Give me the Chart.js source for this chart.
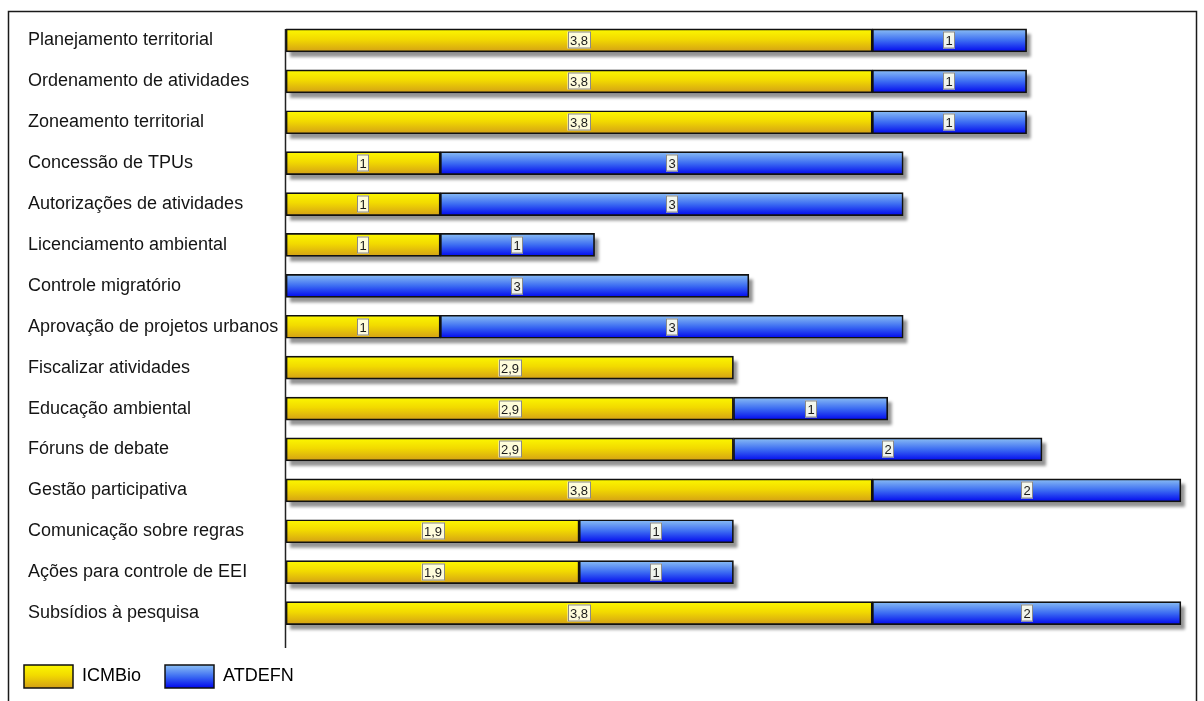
<!DOCTYPE html>
<html>
<head>
<meta charset="utf-8">
<script src="https://cdn.jsdelivr.net/npm/chart.js@4.4.0/dist/chart.umd.min.js"></script>
<style>
html,body{margin:0;padding:0;background:#fff;overflow:hidden}
#wrap{width:1204px;height:701px;position:relative}
</style>
</head>
<body>
<div id="wrap"><canvas id="c" width="1204" height="701"></canvas></div>
<script>
const categories = [
  'Planejamento territorial',
  'Ordenamento de atividades',
  'Zoneamento territorial',
  'Concessão de TPUs',
  'Autorizações de atividades',
  'Licenciamento ambiental',
  'Controle migratório',
  'Aprovação de projetos urbanos',
  'Fiscalizar atividades',
  'Educação ambiental',
  'Fóruns de debate',
  'Gestão participativa',
  'Comunicação sobre regras',
  'Ações para controle de EEI',
  'Subsídios à pesquisa'
];
const icmbioValues = [3.8, 3.8, 3.8, 1, 1, 1, null, 1, 2.9, 2.9, 2.9, 3.8, 1.9, 1.9, 3.8];
const atdefnValues = [1, 1, 1, 3, 3, 1, 3, 3, null, 1, 2, 2, 1, 1, 2];
const seriesNames = ['ICMBio', 'ATDEFN'];

const FONT = "'Liberation Sans',Arial,sans-serif";
const BAR_H = 23;

function yellowGrad(ctx, top, bottom) {
  const g = ctx.createLinearGradient(0, top, 0, bottom);
  g.addColorStop(0, '#fcf800');
  g.addColorStop(0.45, '#f2da00');
  g.addColorStop(1, '#d39f16');
  return g;
}
function blueGrad(ctx, top, bottom) {
  const g = ctx.createLinearGradient(0, top, 0, bottom);
  g.addColorStop(0, '#8cc0f4');
  g.addColorStop(0.5, '#3c6cf2');
  g.addColorStop(1, '#0006ee');
  return g;
}
function barFill(fn, fallback) {
  return (c) => {
    const ch = c.chart;
    const ys = ch.scales && ch.scales.y;
    if (!ys || c.dataIndex === undefined) return fallback;
    const cy = ys.getPixelForValue(c.dataIndex);
    return fn(ch.ctx, cy - BAR_H / 2, cy + BAR_H / 2);
  };
}
function fmt(v) {
  const r = Math.round(v * 10) / 10;
  return (Number.isInteger(r) ? String(r) : r.toFixed(1)).replace('.', ',');
}

const LEG_PAD = 24;
const decorPlugin = {
  id: 'decor',
  afterLayout(chart) {
    const lg = chart.legend;
    if (lg) { lg.left = 24 - LEG_PAD; lg.top = 665 - LEG_PAD; }
  },
  beforeDraw(chart) {
    const ctx = chart.ctx;
    ctx.save();
    ctx.fillStyle = '#fff';
    ctx.fillRect(0, 0, chart.width, chart.height);
    ctx.strokeStyle = '#1a1a1a';
    ctx.lineWidth = 1.5;
    ctx.strokeRect(8.5, 11.5, 1188, 720);
    ctx.restore();
  },
  beforeDatasetsDraw(chart) {
    // drop shadow under each full row of stacked bars
    const ctx = chart.ctx;
    const metas = chart.data.datasets.map((d, i) => chart.getDatasetMeta(i));
    ctx.save();
    ctx.filter = 'blur(1.5px)';
    ctx.fillStyle = 'rgba(0,0,0,0.42)';
    categories.forEach((_, i) => {
      let l = Infinity, r = -Infinity, t = null, h = null;
      metas.forEach((m, di) => {
        const v = chart.data.datasets[di].data[i];
        if (v === null || v === undefined) return;
        const el = m.data[i];
        l = Math.min(l, el.base, el.x);
        r = Math.max(r, el.base, el.x);
        t = el.y - el.height / 2;
        h = el.height;
      });
      if (t === null) return;
      ctx.fillRect(l + 4, t + 5, r - l, h);
    });
    ctx.restore();
  },
  afterDatasetsDraw(chart) {
    const ctx = chart.ctx;
    // axis line
    const xs = chart.scales.x;
    const x0 = Math.round(xs.getPixelForValue(0)) - 0.5;
    ctx.save();
    ctx.strokeStyle = '#222';
    ctx.lineWidth = 1.5;
    ctx.beginPath();
    ctx.moveTo(x0, 29);
    ctx.lineTo(x0, 648);
    ctx.stroke();
    ctx.restore();
    // value labels
    ctx.save();
    ctx.font = "13px " + FONT;
    ctx.textAlign = 'center';
    ctx.textBaseline = 'middle';
    chart.data.datasets.forEach((ds, di) => {
      const meta = chart.getDatasetMeta(di);
      meta.data.forEach((el, i) => {
        const v = ds.data[i];
        if (v === null || v === undefined) return;
        const t = fmt(v);
        const cx = Math.round((el.x + el.base) / 2);
        const cy = Math.round(el.y);
        const tw = ctx.measureText(t).width;
        const w = Math.round(tw + 5), h = 17;
        ctx.fillStyle = 'rgba(255,255,236,0.93)';
        ctx.fillRect(cx - w / 2, cy - h / 2, w, h);
        ctx.strokeStyle = '#8a8a8a';
        ctx.lineWidth = 1;
        ctx.strokeRect(Math.round(cx - w / 2) + 0.5, cy - h / 2 + 0.5, w - 1, h - 1);
        ctx.fillStyle = '#1a1a1a';
        ctx.fillText(t, cx, cy + 1);
      });
    });
    ctx.restore();
  }
};

const chart = new Chart(document.getElementById('c'), {
  type: 'bar',
  data: {
    labels: categories,
    datasets: [
      {
        label: seriesNames[0],
        data: icmbioValues,
        backgroundColor: barFill(yellowGrad, '#f0d000'),
        borderColor: '#111',
        borderWidth: 1.7,
        borderSkipped: false,
        barThickness: BAR_H,
        clip: false
      },
      {
        label: seriesNames[1],
        data: atdefnValues,
        backgroundColor: barFill(blueGrad, '#3c6cf2'),
        borderColor: '#111',
        borderWidth: 1.7,
        borderSkipped: false,
        barThickness: BAR_H,
        clip: false
      }
    ]
  },
  options: {
    indexAxis: 'y',
    responsive: false,
    animation: false,
    maintainAspectRatio: false,
    layout: { padding: { left: 28, right: 20, top: 20, bottom: 10.5 } },
    scales: {
      x: {
        display: false,
        stacked: true,
        min: 0,
        max: 5.82
      },
      y: {
        stacked: true,
        grid: { display: false },
        border: { display: false },
        ticks: {
          crossAlign: 'far',
          autoSkip: false,
          color: '#141414',
          font: { family: FONT, size: 18 }
        },
        afterFit(scale) { scale.width = 258; }
      }
    },
    plugins: {
      tooltip: { enabled: false },
      legend: {
        position: 'bottom',
        align: 'start',
        maxHeight: 67.5,
        labels: {
          boxWidth: 49,
          boxHeight: 23,
          padding: LEG_PAD,
          color: '#141414',
          font: { family: FONT, size: 18 },
          generateLabels(ch) {
            const ctx = ch.ctx;
            return [
              { text: seriesNames[0], fillStyle: yellowGrad(ctx, 665, 688), strokeStyle: '#111', lineWidth: 1.5, hidden: false, datasetIndex: 0 },
              { text: seriesNames[1], fillStyle: blueGrad(ctx, 665, 688), strokeStyle: '#111', lineWidth: 1.5, hidden: false, datasetIndex: 1 }
            ];
          }
        }
      }
    }
  },
  plugins: [decorPlugin]
});
</script>
</body>
</html>
